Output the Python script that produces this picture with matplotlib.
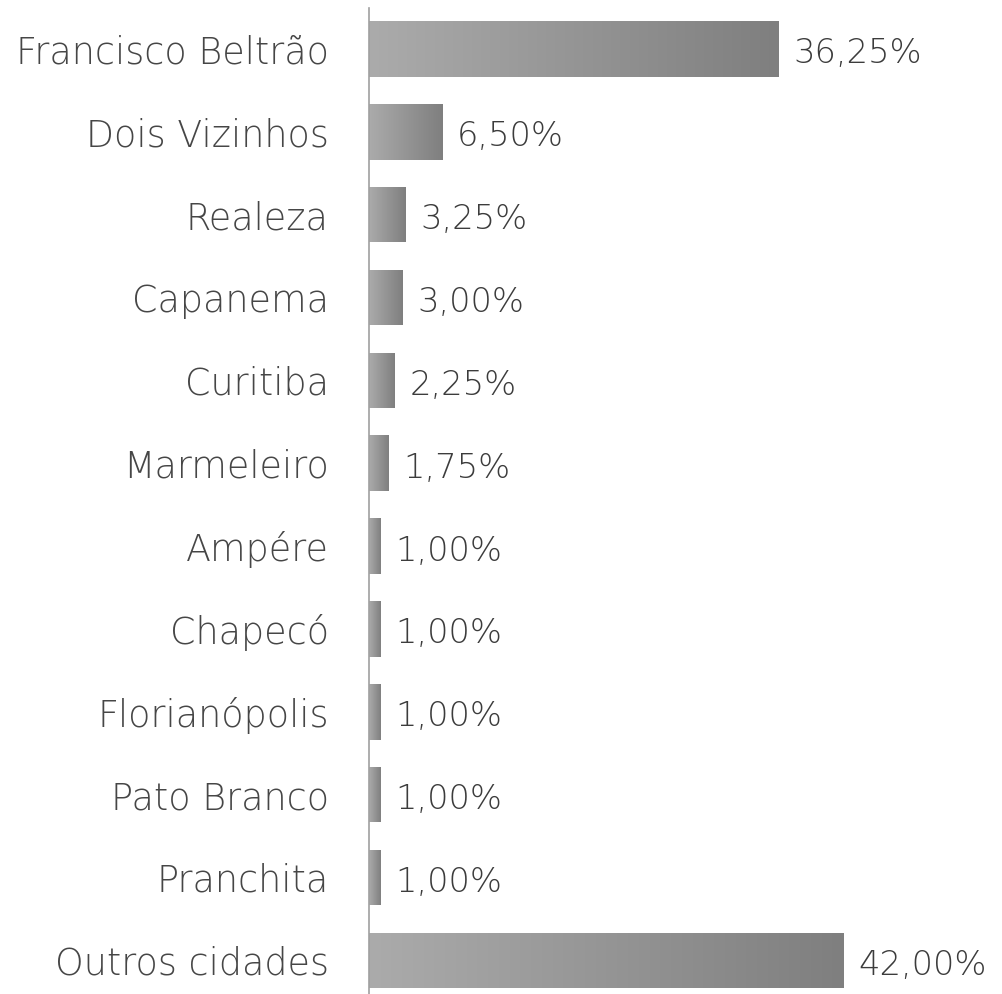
import numpy as np
import matplotlib
matplotlib.use("Agg")
import matplotlib.pyplot as plt
from matplotlib.colors import LinearSegmentedColormap

# Dados
cidades = ["Francisco Beltrão", "Dois Vizinhos", "Realeza", "Capanema", "Curitiba",
           "Marmeleiro", "Ampére", "Chapecó", "Florianópolis", "Pato Branco",
           "Pranchita", "Outros cidades"]
valores = [36.25, 6.50, 3.25, 3.00, 2.25, 1.75, 1.00, 1.00, 1.00, 1.00, 1.00, 42.00]
rotulos = ["36,25%", "6,50%", "3,25%", "3,00%", "2,25%", "1,75%", "1,00%",
           "1,00%", "1,00%", "1,00%", "1,00%", "42,00%"]

plt.rcParams['font.family'] = ['DejaVu Sans']

fig = plt.figure(figsize=(10.02, 9.94), dpi=100)
ax = fig.add_axes([0.3683, -0.0078, 0.6317, 1.0002])

# degradê cinza claro -> cinza escuro em cada barra
cmap = LinearSegmentedColormap.from_list("cinza", ["#ababab", "#7f7f7f"])
grad = np.linspace(0, 1, 256).reshape(1, -1)

y = np.arange(len(cidades))
altura = 0.67
barras = ax.barh(y, valores, height=altura, color="none", edgecolor="none")
for b, v, yi in zip(barras, valores, y):
    im = ax.imshow(grad, cmap=cmap, aspect="auto", interpolation="bicubic",
                   extent=[0, v, yi + altura / 2, yi - altura / 2], zorder=2)
    im.set_clip_path(b)

for v, yi, r in zip(valores, y, rotulos):
    ax.text(v + 1.3, yi + 0.06, r, va="center", ha="left", fontsize=24.3,
            color="#3c3c3c", fontweight="light")

ax.set_xlim(0, 56)
ax.set_ylim(len(cidades) - 0.5, -0.5)
ax.set_yticks(y)
ax.set_yticklabels(cidades, fontsize=26.3, color="#464646", fontweight="light")
ax.tick_params(axis="y", length=0, pad=29)
ax.set_xticks([])
for s in ["top", "right", "bottom"]:
    ax.spines[s].set_visible(False)
ax.spines["left"].set_color("#a0a0a0")
ax.spines["left"].set_linewidth(1.2)

fig.savefig("out.png", dpi=100)
